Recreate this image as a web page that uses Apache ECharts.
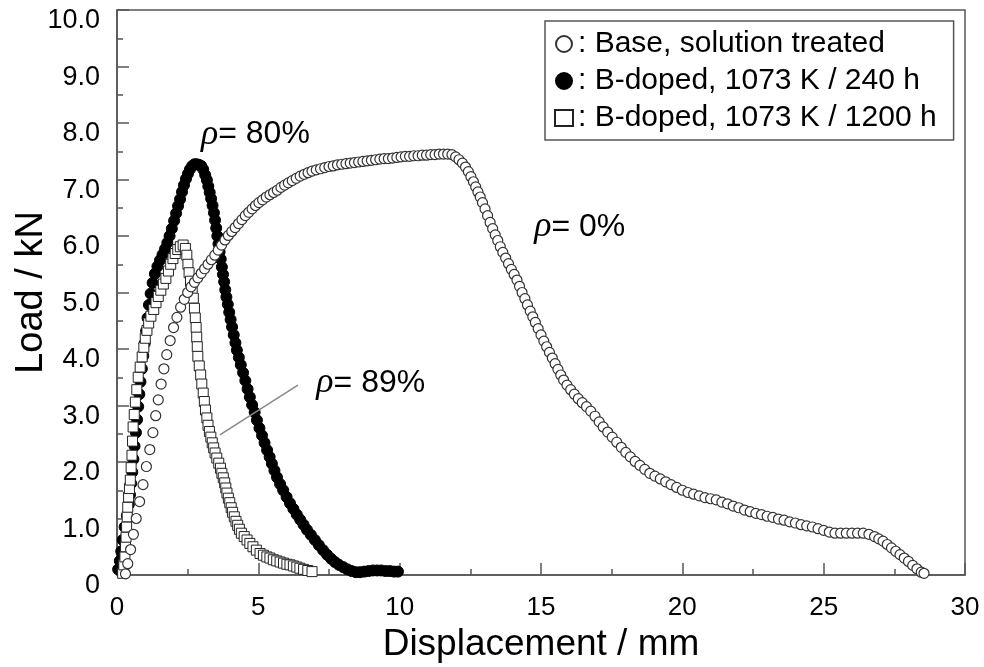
<!DOCTYPE html>
<html>
<head>
<meta charset="utf-8">
<script src="https://cdn.jsdelivr.net/npm/echarts@6/dist/echarts.min.js"></script>
<style>
  html, body { margin: 0; padding: 0; background: #fff; }
  #chart { width: 984px; height: 667px; }
</style>
</head>
<body>
<div id="chart"></div>
<script>
// Load–displacement curves
var seriesNames = ['Base, solution treated', 'B-doped, 1073 K / 240 h', 'B-doped, 1073 K / 1200 h'];

var baseData = [
  [0.30,0.02],[0.38,0.20],[0.48,0.45],[0.58,0.72],[0.68,1.00],[0.80,1.30],[0.92,1.60],[1.04,1.92],[1.16,2.22],
  [1.27,2.52],[1.37,2.82],[1.46,3.10],[1.56,3.38],[1.66,3.65],[1.76,3.90],[1.88,4.15],[2.00,4.38],[2.12,4.56],
  [2.25,4.74],[2.38,4.88],[2.50,5.00],[2.62,5.10],[2.74,5.18],[2.86,5.26],[2.98,5.34],[3.10,5.42],[3.22,5.50],
  [3.34,5.58],[3.46,5.66],[3.58,5.75],[3.70,5.84],[3.82,5.93],[3.94,6.01],[4.06,6.08],[4.18,6.15],[4.30,6.22],
  [4.42,6.29],[4.54,6.36],[4.66,6.42],[4.78,6.48],[4.90,6.54],[5.02,6.59],[5.15,6.64],[5.28,6.69],[5.41,6.73],
  [5.54,6.77],[5.67,6.81],[5.80,6.86],[5.93,6.90],[6.06,6.94],[6.20,6.98],[6.34,7.02],[6.48,7.06],[6.62,7.09],
  [6.76,7.12],[6.90,7.15],[7.05,7.17],[7.20,7.19],[7.35,7.21],[7.50,7.23],[7.65,7.24],[7.80,7.26],[7.95,7.27],
  [8.10,7.28],[8.25,7.29],[8.40,7.30],[8.55,7.31],[8.70,7.32],[8.85,7.33],[9.00,7.34],[9.15,7.35],[9.30,7.36],
  [9.45,7.37],[9.60,7.37],[9.75,7.38],[9.90,7.39],[10.05,7.40],[10.20,7.41],[10.35,7.41],[10.50,7.42],[10.65,7.42],
  [10.80,7.43],[10.95,7.43],[11.10,7.44],[11.25,7.44],[11.40,7.45],[11.55,7.45],[11.70,7.45],[11.85,7.44],
  [11.98,7.40],[12.10,7.35],[12.22,7.29],[12.33,7.22],[12.43,7.14],[12.52,7.05],[12.61,6.96],[12.69,6.87],
  [12.77,6.78],[12.85,6.69],[12.93,6.59],[13.02,6.48],[13.11,6.36],[13.20,6.24],[13.29,6.13],[13.38,6.02],
  [13.47,5.92],[13.56,5.81],[13.65,5.71],[13.75,5.61],[13.85,5.51],[13.95,5.41],[14.05,5.32],[14.15,5.22],
  [14.24,5.11],[14.33,5.00],[14.43,4.89],[14.52,4.78],[14.62,4.67],[14.71,4.57],[14.80,4.47],[14.90,4.36],
  [15.00,4.25],[15.10,4.14],[15.20,4.04],[15.30,3.94],[15.40,3.84],[15.50,3.74],[15.60,3.64],[15.70,3.54],
  [15.80,3.45],[15.92,3.36],[16.05,3.28],[16.18,3.20],[16.32,3.12],[16.46,3.05],[16.61,2.98],[16.76,2.90],
  [16.91,2.81],[17.06,2.71],[17.20,2.62],[17.36,2.53],[17.52,2.44],[17.68,2.35],[17.84,2.26],[18.00,2.17],
  [18.16,2.09],[18.33,2.01],[18.50,1.94],[18.67,1.87],[18.85,1.80],[19.03,1.75],[19.22,1.70],[19.41,1.65],
  [19.60,1.60],[19.80,1.55],[20.00,1.50],[20.20,1.46],[20.40,1.43],[20.60,1.40],[20.80,1.37],[21.00,1.35],
  [21.20,1.33],[21.40,1.29],[21.60,1.26],[21.80,1.22],[22.00,1.19],[22.20,1.15],[22.40,1.12],[22.60,1.09],
  [22.80,1.07],[23.00,1.04],[23.20,1.02],[23.40,0.99],[23.60,0.97],[23.80,0.94],[24.00,0.92],[24.20,0.89],
  [24.40,0.87],[24.60,0.85],[24.80,0.82],[25.00,0.79],[25.20,0.76],[25.40,0.74],[25.60,0.74],[25.80,0.74],
  [26.00,0.74],[26.20,0.74],[26.40,0.74],[26.60,0.72],[26.80,0.68],[26.95,0.64],[27.10,0.60],[27.25,0.54],
  [27.40,0.48],[27.55,0.42],[27.70,0.36],[27.85,0.30],[28.00,0.24],[28.15,0.17],[28.30,0.11],[28.45,0.05],
  [28.55,0.03]
];

var doped240Data = [
  [0.04,0.10],[0.10,0.25],[0.15,0.42],[0.20,0.62],[0.27,0.85],[0.35,1.05],[0.42,1.25],[0.46,1.42],[0.50,1.62],
  [0.54,1.82],[0.58,2.05],[0.62,2.28],[0.67,2.52],[0.71,2.75],[0.75,2.98],[0.79,3.20],[0.83,3.42],[0.88,3.65],
  [0.93,3.88],[0.98,4.10],[1.03,4.32],[1.08,4.55],[1.13,4.78],[1.19,4.98],[1.26,5.17],[1.34,5.33],[1.43,5.46],
  [1.52,5.57],[1.61,5.67],[1.70,5.77],[1.78,5.88],[1.86,6.00],[1.94,6.13],[2.02,6.27],[2.09,6.40],[2.16,6.53],
  [2.23,6.65],[2.30,6.78],[2.37,6.90],[2.44,7.01],[2.51,7.10],[2.58,7.18],[2.66,7.24],[2.74,7.27],[2.82,7.27],
  [2.90,7.26],[2.98,7.24],[3.05,7.18],[3.12,7.08],[3.18,6.99],[3.23,6.88],[3.28,6.77],[3.33,6.66],[3.38,6.54],
  [3.43,6.41],[3.47,6.28],[3.51,6.14],[3.55,6.00],[3.59,5.86],[3.63,5.72],[3.67,5.59],[3.71,5.45],[3.75,5.32],
  [3.79,5.19],[3.83,5.05],[3.87,4.92],[3.92,4.79],[3.97,4.65],[4.02,4.52],[4.07,4.39],[4.13,4.25],[4.19,4.11],
  [4.24,3.98],[4.31,3.85],[4.38,3.72],[4.46,3.58],[4.54,3.44],[4.62,3.29],[4.70,3.15],[4.78,3.01],[4.87,2.88],
  [4.95,2.74],[5.04,2.60],[5.13,2.47],[5.22,2.34],[5.31,2.21],[5.40,2.09],[5.48,1.97],[5.57,1.85],[5.66,1.73],
  [5.77,1.61],[5.88,1.50],[6.00,1.38],[6.12,1.27],[6.24,1.17],[6.36,1.07],[6.48,0.98],[6.60,0.89],[6.72,0.80],
  [6.86,0.71],[7.00,0.62],[7.14,0.53],[7.29,0.44],[7.43,0.36],[7.57,0.29],[7.71,0.23],[7.85,0.18],[8.00,0.14],
  [8.15,0.10],[8.30,0.07],[8.45,0.05],[8.60,0.05],[8.75,0.06],[8.90,0.07],[9.05,0.08],[9.20,0.08],[9.35,0.08],
  [9.50,0.07],[9.65,0.07],[9.80,0.06],[9.94,0.06]
];

var doped1200Data = [
  [0.20,0.03],[0.24,0.18],[0.28,0.32],[0.30,0.50],[0.32,0.67],[0.34,0.85],[0.36,1.03],[0.38,1.20],[0.41,1.38],
  [0.44,1.53],[0.47,1.68],[0.50,1.90],[0.53,2.12],[0.55,2.37],[0.57,2.62],[0.61,2.84],[0.65,3.06],[0.70,3.28],
  [0.75,3.50],[0.82,3.68],[0.89,3.86],[0.95,4.03],[1.00,4.19],[1.06,4.33],[1.12,4.46],[1.20,4.58],[1.30,4.70],
  [1.38,4.82],[1.46,4.93],[1.55,5.04],[1.64,5.15],[1.73,5.25],[1.82,5.38],[1.90,5.50],[1.98,5.60],[2.06,5.69],
  [2.15,5.76],[2.24,5.81],[2.34,5.84],[2.42,5.78],[2.47,5.66],[2.51,5.50],[2.55,5.35],[2.60,5.20],[2.66,5.05],
  [2.70,4.90],[2.74,4.72],[2.77,4.55],[2.80,4.38],[2.82,4.21],[2.84,4.04],[2.86,3.87],[2.91,3.70],[2.96,3.54],
  [3.00,3.38],[3.05,3.22],[3.09,3.07],[3.13,2.92],[3.18,2.78],[3.22,2.65],[3.27,2.54],[3.32,2.44],[3.37,2.34],
  [3.42,2.25],[3.47,2.16],[3.53,2.07],[3.60,1.98],[3.66,1.89],[3.71,1.80],[3.76,1.72],[3.81,1.63],[3.85,1.54],
  [3.89,1.45],[3.94,1.36],[3.99,1.28],[4.04,1.19],[4.09,1.11],[4.15,1.03],[4.21,0.95],[4.27,0.88],[4.33,0.81],
  [4.40,0.74],[4.50,0.68],[4.60,0.62],[4.70,0.56],[4.81,0.50],[4.93,0.44],[5.06,0.38],[5.18,0.35],[5.30,0.32],
  [5.41,0.30],[5.53,0.27],[5.65,0.25],[5.77,0.23],[5.89,0.21],[6.01,0.19],[6.12,0.18],[6.24,0.16],[6.36,0.14],
  [6.47,0.12],[6.60,0.10],[6.75,0.08],[6.90,0.06]
];

// porosity annotations: anchor (left edge, vertical centre) in data units
var noteX = [2.97, 14.76, 7.05];
var noteY = [7.80, 6.16, 3.40];
var noteText = ['80%', '0%', '89%'];
var leaderFrom = [3.64, 2.48];
var leaderTo = [6.40, 3.36];

var xTicks = { min: 0, max: 30, step: 5 };
var yTicks = { min: 0, max: 10, step: 1 };

var font = 'Liberation Sans, Arial, sans-serif';
var axisColor = '#555';

var chart = echarts.init(document.getElementById('chart'), null, { renderer: 'canvas' });

var noteData = noteX.map(function (x, i) { return { value: [x, noteY[i]], txt: noteText[i] }; });

chart.setOption({
  animation: false,
  grid: {
    left: 117, right: 19, top: 10, bottom: 92,
    outerBoundsMode: 'none', containLabel: false,
    show: true, borderColor: axisColor, borderWidth: 1.5
  },
  legend: {
    data: seriesNames,
    orient: 'vertical',
    left: 545, top: 21,
    padding: [8, 17, 7, 9],
    itemGap: 7,
    itemWidth: 18, itemHeight: 16,
    borderColor: axisColor, borderWidth: 1.5,
    formatter: ': {name}',
    textStyle: { fontFamily: font, fontSize: 30, color: '#000' },
    selectedMode: false
  },
  xAxis: {
    type: 'value',
    min: xTicks.min, max: xTicks.max, interval: xTicks.step,
    name: 'Displacement / mm',
    nameLocation: 'middle', nameGap: 40,
    nameTextStyle: { fontFamily: font, fontSize: 37, color: '#000' },
    axisLine: { lineStyle: { color: axisColor, width: 1.5 } },
    axisTick: { inside: true, length: 12, lineStyle: { color: axisColor, width: 1.5 } },
    minorTick: { show: true, splitNumber: 2, length: 6, lineStyle: { color: axisColor, width: 1.5 } },
    splitLine: { show: false },
    axisLabel: { fontFamily: font, fontSize: 26, color: '#000', margin: 20 }
  },
  yAxis: {
    type: 'value',
    min: yTicks.min, max: yTicks.max, interval: yTicks.step,
    name: 'Load / kN',
    nameLocation: 'middle', nameGap: 66, nameMoveOverlap: false,
    nameTextStyle: { fontFamily: font, fontSize: 38, color: '#000' },
    axisLine: { show: true, lineStyle: { color: axisColor, width: 1.5 } },
    axisTick: { show: true, inside: true, length: 12, lineStyle: { color: axisColor, width: 1.5 } },
    minorTick: { show: true, splitNumber: 2, length: 6, lineStyle: { color: axisColor, width: 1.5 } },
    splitLine: { show: false },
    axisLabel: {
      fontFamily: font, fontSize: 27, color: '#000', margin: 17,
      verticalAlign: 'top', lineHeight: 22,
      formatter: function (v) { return v === 0 ? '0' : v.toFixed(1); }
    }
  },
  series: [
    {
      name: seriesNames[1], type: 'scatter', clip: false,
      symbol: 'circle', symbolSize: 11,
      itemStyle: { color: '#000', borderColor: '#000', borderWidth: 1, opacity: 1 },
      data: doped240Data, z: 2
    },
    {
      name: seriesNames[2], type: 'scatter', clip: false,
      symbol: 'rect', symbolSize: 10,
      itemStyle: { color: '#fff', borderColor: '#222', borderWidth: 1, opacity: 1 },
      data: doped1200Data, z: 3
    },
    {
      name: seriesNames[0], type: 'scatter', clip: false,
      symbol: 'circle', symbolSize: 10,
      itemStyle: { color: '#fff', borderColor: '#333', borderWidth: 1.2, opacity: 1 },
      data: baseData, z: 4
    },
    {
      name: 'notes', type: 'scatter', silent: true, symbolSize: 0,
      itemStyle: { opacity: 1 },
      data: noteData, z: 5,
      label: {
        show: true, position: 'right', distance: 0,
        formatter: function (p) { return '{r|ρ}= ' + p.data.txt; },
        fontFamily: font, fontSize: 32, color: '#000', opacity: 1,
        rich: { r: { fontFamily: 'Liberation Serif, serif', fontStyle: 'italic', fontSize: 36, color: '#000' } }
      },
      markLine: {
        silent: true, symbol: ['none', 'none'],
        label: { show: false },
        lineStyle: { color: '#888', width: 1.5, type: 'solid', opacity: 1 },
        data: [[{ coord: leaderFrom }, { coord: leaderTo }]]
      }
    }
  ]
});
window.addEventListener('resize', function () { chart.resize(); });
</script>
</body>
</html>
